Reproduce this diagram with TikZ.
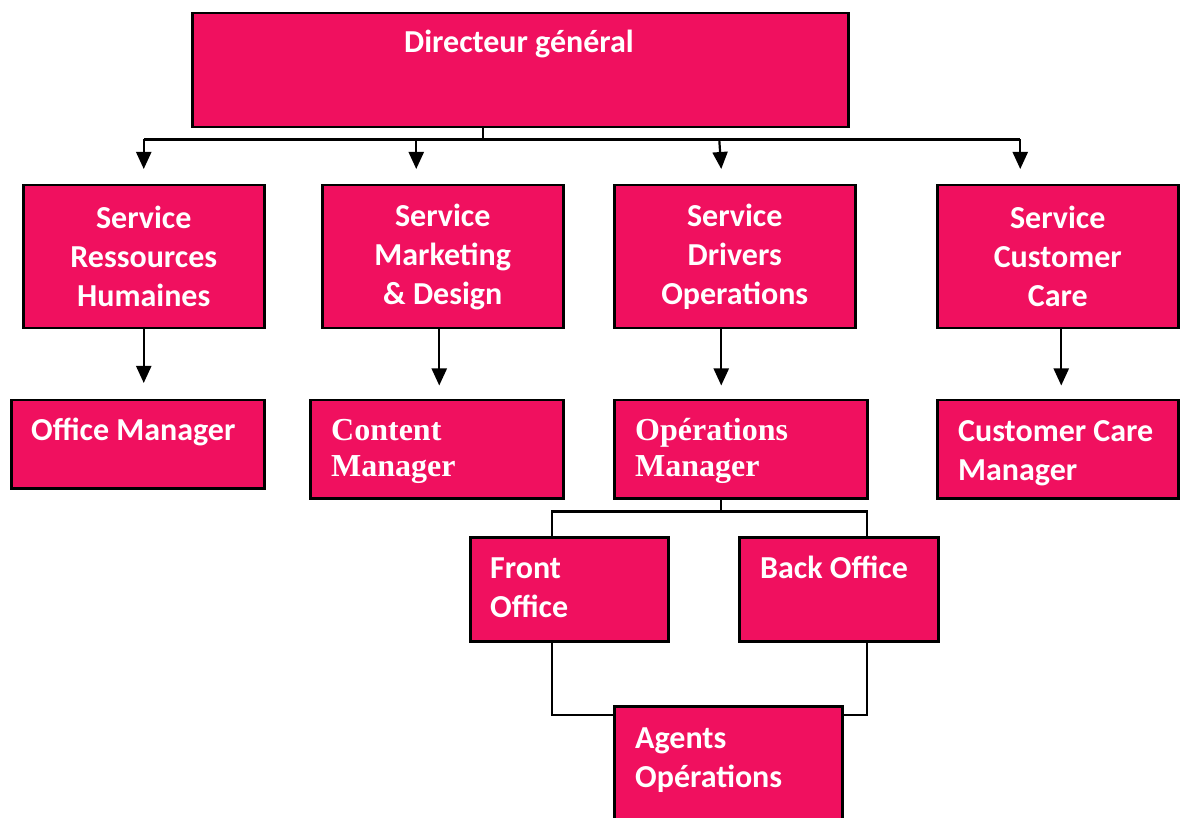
\documentclass[tikz,border=0pt]{standalone}
\usepackage{fontspec}
\setmainfont{Carlito}
\newfontfamily\timesfont{Liberation Serif}
\usetikzlibrary{arrows.meta}
\definecolor{rose}{RGB}{240,16,95}
\tikzset{
    box/.style={draw=black, fill=rose, line width=2.5pt, inner sep=0pt, anchor=north west},
    lbl/.style={text=white, font=\fontsize{32}{39}\selectfont\bfseries, inner sep=0pt, align=left, anchor=base west},
    conn/.style={line width=2.2pt},
    arr/.style={conn, -{Triangle[length=17pt,width=15pt]}}
}
\begin{document}
\begin{tikzpicture}[x=1pt, y=-1pt]
    \useasboundingbox (0,0) rectangle (1195,818);

    \node[box, minimum width=656, minimum height=114] (dg) at (191,12) {};
    \node[box, minimum width=241, minimum height=143, lbl, align=center, anchor=north west] (rh) at (22,184) {Service\\Ressources\\Humaines};
    \node[box, minimum width=241, minimum height=143, lbl, align=center, anchor=north west] (mkt) at (321,184) {Service\\Marketing\\\& Design};
    \node[box, minimum width=241, minimum height=143, lbl, align=center, anchor=north west] (drv) at (613,184) {Service\\Drivers\\Operations};
    \node[box, minimum width=241, minimum height=143, lbl, align=center, anchor=north west] (cc) at (936,184) {Service\\Customer\\Care};
    \node[box, minimum width=253, minimum height=88] (om) at (10,399) {};
    \node[box, minimum width=253, minimum height=98] (cm) at (309,399) {};
    \node[box, minimum width=253, minimum height=98] (opm) at (613,399) {};
    \node[box, minimum width=241, minimum height=98] (ccm) at (936,399) {};
    \node[box, minimum width=198, minimum height=104] (fo) at (469,536) {};
    \node[box, minimum width=199, minimum height=104] (bo) at (738,536) {};
    \node[box, minimum width=228, minimum height=130] (ag) at (613,705) {};

    \node[lbl, anchor=base] (dgt) at (519,53) {Directeur général};
    \node[lbl] (omt) at (31,441) {Office Manager};
    \node[lbl, font=\fontsize{32}{36}\selectfont\timesfont\bfseries] (cmt) at (331,476) {Content\\Manager};
    \node[lbl, font=\fontsize{32}{36}\selectfont\timesfont\bfseries] (opmt) at (635,476) {Opérations\\Manager};
    \node[lbl] (ccmt) at (958,480) {Customer Care\\Manager};
    \node[lbl] (fot) at (490,617) {Front\\Office};
    \node[lbl] (bot) at (760,578) {Back Office};
    \node[lbl] (agt) at (635,787) {Agents\\Opérations};

    \coordinate (c1) at (rh.north);
    \coordinate (c2) at ([xshift=-26.5pt]mkt.north);
    \coordinate (c3) at ([xshift=-15.5pt]drv.north);
    \coordinate (c4) at ([xshift=-37.5pt]cc.north);
    \coordinate (f1) at ([xshift=-17pt]fo.north);
    \coordinate (b1) at ([xshift=28.5pt]bo.north);

    \draw[conn] ([xshift=-37pt]dg.south) -- ++(0,11) coordinate (bus);
    \draw[conn] (bus -| c1) -- (bus -| c4);
    \draw[arr] (bus -| c1) -- ([yshift=15pt]rh.north);
    \draw[arr] (bus -| c2) -- ([xshift=-26.5pt, yshift=15pt]mkt.north);
    \draw[arr] (bus -| c3) -- ([xshift=-13.5pt, yshift=15pt]drv.north);
    \draw[arr] (bus -| c4) -- ([xshift=-37.5pt, yshift=15pt]cc.north);

    \draw[arr, shorten >=16pt] (rh.south) -- (rh.south |- om.north);
    \draw[arr, shorten >=16pt] ([xshift=-3.5pt]mkt.south) -- ([xshift=-3.5pt, yshift=-72pt]mkt.south);
    \draw[arr, shorten >=16pt] ([xshift=-13.5pt]drv.south) -- ([xshift=-13.5pt, yshift=-72pt]drv.south);
    \draw[arr, shorten >=16pt] ([xshift=3.5pt]cc.south) -- ([xshift=3.5pt, yshift=-72pt]cc.south);

    \draw[conn] ([xshift=-19.5pt]opm.south) -- ++(0,12) coordinate (sub);
    \draw[conn] (f1) |- (sub) -| (b1);
    \draw[conn] ([xshift=-17pt]fo.south) |- ([yshift=-10pt]ag.north west);
    \draw[conn] ([xshift=28.5pt]bo.south) |- ([yshift=-10pt]ag.north east);
\end{tikzpicture}
\end{document}
